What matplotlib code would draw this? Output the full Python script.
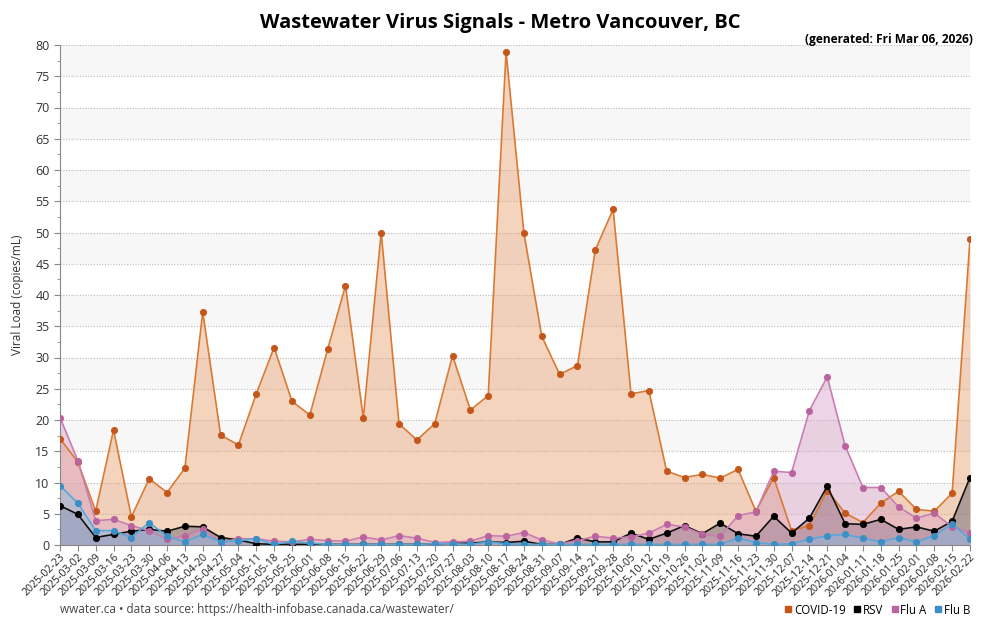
import matplotlib.pyplot as plt
from matplotlib.ticker import MultipleLocator
from matplotlib.lines import Line2D

# weekly sample dates (2025-12-28 is missing in the source)
dates = ['2025-02-23', '2025-03-02', '2025-03-09', '2025-03-16', '2025-03-23', '2025-03-30',
         '2025-04-06', '2025-04-13', '2025-04-20', '2025-04-27', '2025-05-04', '2025-05-11',
         '2025-05-18', '2025-05-25', '2025-06-01', '2025-06-08', '2025-06-15', '2025-06-22',
         '2025-06-29', '2025-07-06', '2025-07-13', '2025-07-20', '2025-07-27', '2025-08-03',
         '2025-08-10', '2025-08-17', '2025-08-24', '2025-08-31', '2025-09-07', '2025-09-14',
         '2025-09-21', '2025-09-28', '2025-10-05', '2025-10-12', '2025-10-19', '2025-10-26',
         '2025-11-02', '2025-11-09', '2025-11-16', '2025-11-23', '2025-11-30', '2025-12-07',
         '2025-12-14', '2025-12-21', '2026-01-04', '2026-01-11', '2026-01-18', '2026-01-25',
         '2026-02-01', '2026-02-08', '2026-02-15', '2026-02-22']

covid = [17.0, 13.3, 5.4, 18.4, 4.5, 10.6, 8.4, 12.3, 37.3, 17.6, 16.0, 24.2,
         31.6, 23.0, 20.8, 31.3, 41.5, 20.3, 50.0, 19.4, 16.8, 19.4, 30.3, 21.6,
         23.9, 78.9, 49.9, 33.4, 27.3, 28.7, 47.2, 53.7, 24.2, 24.7, 11.8, 10.8,
         11.3, 10.7, 12.1, 5.4, 10.8, 2.3, 3.1, 8.7, 5.1, 3.6, 6.7, 8.6,
         5.7, 5.4, 8.3, 48.9]

rsv = [6.3, 4.9, 1.2, 1.7, 2.2, 2.5, 2.2, 3.0, 2.9, 1.2, 0.8, 0.2,
       0.1, 0.1, 0.1, 0.1, 0.1, 0.1, 0.1, 0.1, 0.1, 0.2, 0.3, 0.3,
       0.5, 0.4, 0.6, 0.1, 0.1, 1.1, 0.5, 0.5, 1.9, 0.9, 1.9, 3.1,
       1.8, 3.5, 1.8, 1.4, 4.6, 1.9, 4.3, 9.4, 3.4, 3.3, 4.1, 2.5,
       2.9, 2.2, 3.8, 10.8]

flu_a = [20.4, 13.5, 3.9, 4.1, 3.1, 2.3, 0.9, 1.5, 2.6, 0.4, 1.0, 1.0,
         0.6, 0.5, 0.9, 0.7, 0.6, 1.3, 0.8, 1.5, 1.1, 0.4, 0.5, 0.6,
         1.5, 1.4, 2.0, 0.8, 0.2, 0.7, 1.4, 1.1, 1.3, 1.9, 3.3, 2.9,
         1.7, 1.4, 4.7, 5.3, 11.8, 11.6, 21.5, 26.9, 15.9, 9.2, 9.2, 6.1,
         4.3, 5.1, 2.9, 2.0]

flu_b = [9.5, 6.7, 2.3, 2.3, 1.2, 3.6, 1.4, 0.5, 1.7, 0.5, 0.7, 1.0,
         0.1, 0.6, 0.3, 0.1, 0.1, 0.1, 0.1, 0.1, 0.1, 0.2, 0.2, 0.1,
         0.5, 0.2, 0.1, 0.1, 0.1, 0.1, 0.1, 0.1, 0.1, 0.1, 0.1, 0.1,
         0.1, 0.1, 1.1, 0.4, 0.1, 0.2, 0.9, 1.5, 1.7, 1.1, 0.5, 1.2,
         0.5, 1.5, 3.4, 0.9]

# name, values, line colour, marker colour, fill colour
series = [
    ('COVID-19', covid, '#d97a34', '#c4561a', '#e89a66'),
    ('RSV', rsv, '#111111', '#000000', '#555566'),
    ('Flu A', flu_a, '#c77fb3', '#b9649f', '#d59ac4'),
    ('Flu B', flu_b, '#55a8dc', '#3c8fc4', '#7fbde6'),
]

plt.rcParams['font.family'] = ['Open Sans', 'DejaVu Sans']

fig = plt.figure(figsize=(10, 6.25), dpi=100)
ax = fig.add_axes([0.06, 0.128, 0.91, 0.8])

x = list(range(len(dates)))

# alternating background bands
for lo in range(5, 80, 10):
    ax.axhspan(lo, lo + 5, color='#f7f7f7', zorder=0, lw=0)

for name, vals, lc, mc, fc in series:
    ax.fill_between(x, 0, vals, color=fc, alpha=0.42, lw=0, zorder=1)
for name, vals, lc, mc, fc in series:
    ax.plot(x, vals, color=lc, lw=1.2, zorder=3, marker='o', markersize=4.5,
            markerfacecolor=mc, markeredgecolor=mc, markeredgewidth=0.6)

ax.set_xlim(0, len(dates) - 1)
ax.set_ylim(0, 80)
ax.yaxis.set_major_locator(MultipleLocator(5))
ax.yaxis.set_minor_locator(MultipleLocator(2.5))
ax.grid(axis='y', which='major', color='#bbbbbb', linestyle=(0, (1, 1.5)), lw=0.8, zorder=0.5)
ax.set_axisbelow(True)

ax.set_xticks(x)
ax.set_xticklabels(dates, rotation=45, ha='right', rotation_mode='anchor', fontsize=7.6, color='#222222')
ax.tick_params(axis='y', labelsize=9, colors='#333333', length=4)
ax.tick_params(axis='y', which='minor', length=2.5, color='#888888')
ax.tick_params(axis='x', length=4, color='#888888', pad=1)
ax.tick_params(axis='y', which='major', color='#888888')

for s in ['top', 'right']:
    ax.spines[s].set_visible(False)
for s in ['left', 'bottom']:
    ax.spines[s].set_color('#888888')

ax.set_ylabel('Viral Load (copies/mL)', fontsize=8.5, color='#333333', labelpad=8)

fig.text(0.5, 0.963, 'Wastewater Virus Signals - Metro Vancouver, BC', ha='center', va='center',
         fontsize=14.5, fontweight='bold', family=['Liberation Sans Narrow', 'Open Sans', 'DejaVu Sans'])
fig.text(0.973, 0.937, '(generated: Fri Mar 06, 2026)', ha='right', va='center',
         fontsize=8.6, fontweight='bold', family=['Liberation Sans Narrow', 'Open Sans', 'DejaVu Sans'])

fig.text(0.06, 0.024, 'wwater.ca \u2022 data source: https://health-infobase.canada.ca/wastewater/',
         ha='left', va='center', fontsize=8.5, color='#444444')

handles = [Line2D([], [], marker='s', ls='none', color=mc, markersize=5) for _, _, lc, mc, fc in series]
labels = [s[0] for s in series]
fig.legend(handles, labels, loc='center right', bbox_to_anchor=(0.975, 0.024), ncol=4, frameon=False,
           fontsize=8.3, handletextpad=0.1, columnspacing=0.6, borderaxespad=0, handlelength=0.8)

fig.savefig('out.png', dpi=100)
